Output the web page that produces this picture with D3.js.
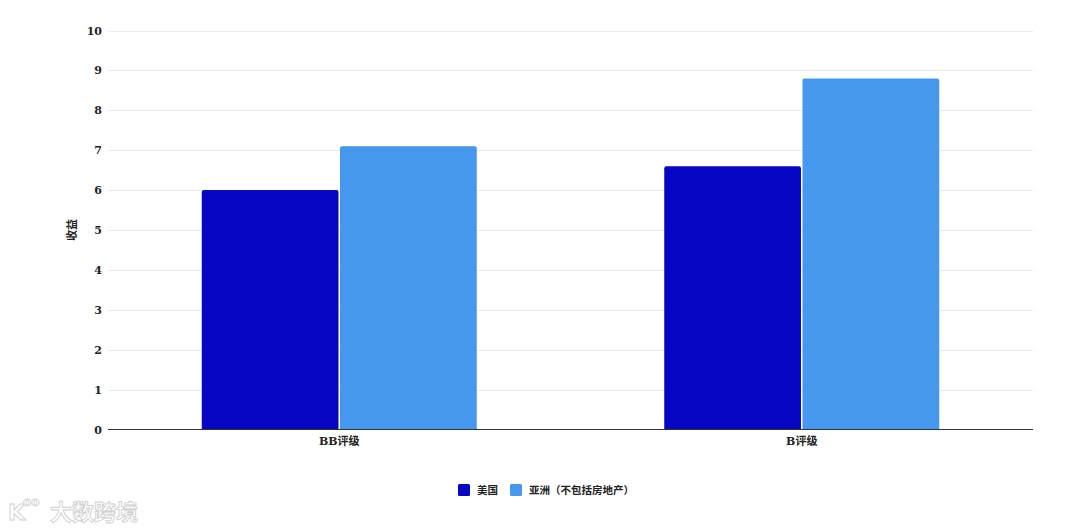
<!DOCTYPE html>
<html><head><meta charset="utf-8">
<script src="https://cdn.jsdelivr.net/npm/d3@7"></script>
<style>
html,body{margin:0;padding:0;background:#fff;}
svg text{font-family:"DejaVu Serif","Liberation Serif","Noto Sans CJK SC",serif;font-weight:bold;fill:#222;}
</style></head>
<body>
<svg id="chart" width="1080" height="530"></svg>
<script>
const categories = ["BB评级", "B评级"];
const seriesNames = ["美国", "亚洲（不包括房地产）"];
const usValues = [6.0, 6.6];
const asiaValues = [7.1, 8.8];
const yTicks = [0,1,2,3,4,5,6,7,8,9,10];
const colors = ["#0606c4", "#4697ee"];
const yTitle = "收益";

(function(){
const svg = d3.select("#chart");
const mLeft = 108, mRight = 1033, mTop = 30.5, mBottom = 429.5;

const x = d3.scaleBand().domain(categories).range([mLeft, mRight]).paddingInner(0).paddingOuter(0);
const y = d3.scaleLinear().domain([0, 10]).range([mBottom, mTop]);
const inner = d3.scaleBand().domain(seriesNames).range([0, 275]).paddingInner(0.011);

// gridlines
svg.append("g").selectAll("line").data(yTicks.filter(d => d > 0)).join("line")
  .attr("x1", mLeft).attr("x2", mRight)
  .attr("y1", d => Math.round(y(d)) + 0.5).attr("y2", d => Math.round(y(d)) + 0.5)
  .attr("stroke", "#ebebeb").attr("stroke-width", 1);

// y axis labels
const yAxis = d3.axisLeft(y).tickValues(yTicks).tickSize(0).tickPadding(6);
const gy = svg.append("g").attr("transform", `translate(${mLeft},0)`).call(yAxis);
gy.select(".domain").remove();
gy.selectAll("text").style("font-size", "11px").style("font-family", "DejaVu Serif, serif").style("font-weight", "bold").attr("fill", "#222");

// bars
const series = [usValues, asiaValues];
const rows = categories.map((c, i) => seriesNames.map((s, j) => ({cat: c, name: s, value: series[j][i], color: colors[j]})));
const groups = svg.append("g").selectAll("g").data(rows).join("g")
  .attr("transform", (d, i) => `translate(${x(categories[i]) + x.bandwidth()/2 - 137.5},0)`);
groups.selectAll("path").data(d => d).join("path")
  .attr("fill", d => d.color)
  .attr("d", d => {
    const x0 = inner(d.name), w = inner.bandwidth(), y0 = y(d.value), y1 = y(0), r = 2;
    return `M${x0},${y1}V${y0 + r}Q${x0},${y0} ${x0 + r},${y0}H${x0 + w - r}Q${x0 + w},${y0} ${x0 + w},${y0 + r}V${y1}Z`;
  });

// baseline
svg.append("line").attr("x1", mLeft).attr("x2", mRight).attr("y1", mBottom).attr("y2", mBottom)
  .attr("stroke", "#333").attr("stroke-width", 1.2);

// x labels
const xAxis = d3.axisBottom(x).tickSize(0).tickPadding(8);
const gx = svg.append("g").attr("transform", `translate(0,${mBottom})`).call(xAxis);
gx.select(".domain").remove();
gx.selectAll("text").style("font-size", "11px").style("font-family", "DejaVu Serif, Noto Sans CJK SC, serif").style("font-weight", "bold").attr("fill", "#222");

// y title
svg.append("text").attr("transform", "translate(76,230) rotate(-90)")
  .attr("text-anchor", "middle").style("font-size", "11px").text(yTitle);

// legend
const legendX = [458, 510];
const lg = svg.append("g").selectAll("g").data(seriesNames).join("g")
  .attr("transform", (d, i) => `translate(${legendX[i]},484)`);
lg.append("rect").attr("width", 12).attr("height", 12).attr("rx", 1.5).attr("fill", (d, i) => colors[i]);
lg.append("text").attr("x", 19).attr("y", 10).style("font-size", "10.5px").text(d => d);

// watermark
const wm = svg.append("g").attr("opacity", 0.55);
wm.append("text").attr("x", 8).attr("y", 520).style("font-size", "22px").style("font-family", "DejaVu Sans, sans-serif")
  .style("fill", "#fff").attr("stroke", "#aaa").attr("stroke-width", 0.9).text("K");
wm.append("text").attr("x", 23).attr("y", 506).style("font-size", "12px").style("font-family", "DejaVu Sans, sans-serif")
  .style("fill", "#fff").attr("stroke", "#aaa").attr("stroke-width", 0.8).text("oo");
wm.append("text").attr("x", 50).attr("y", 520).style("font-size", "22px").style("font-family", "Noto Sans CJK SC, sans-serif")
  .style("fill", "#fff").attr("stroke", "#aaa").attr("stroke-width", 0.9).text("大数跨境");
})();
</script>
</body></html>
